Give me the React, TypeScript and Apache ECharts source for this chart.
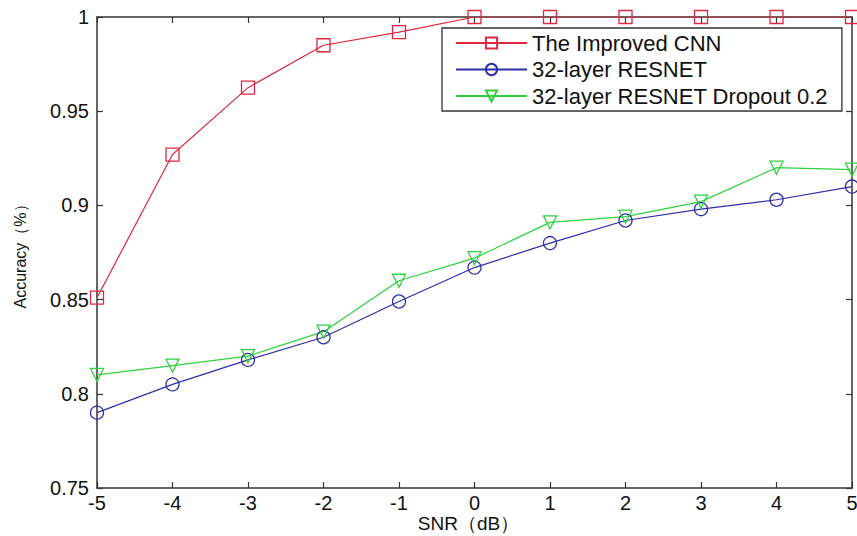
import React, { useEffect, useRef } from "react";
import * as echarts from "echarts";

const snr = [-5, -4, -3, -2, -1, 0, 1, 2, 3, 4, 5];
const improvedCnn = [0.851, 0.927, 0.9625, 0.985, 0.992, 1.0, 1.0, 1.0, 1.0, 1.0, 1.0];
const resnet32 = [0.79, 0.805, 0.818, 0.83, 0.849, 0.867, 0.88, 0.892, 0.898, 0.903, 0.91];
const resnet32Dropout = [0.81, 0.815, 0.82, 0.833, 0.86, 0.872, 0.891, 0.894, 0.902, 0.92, 0.919];
const seriesNames = ["The Improved CNN", "32-layer RESNET", "32-layer RESNET Dropout 0.2"];
const yTicks = [0.75, 0.8, 0.85, 0.9, 0.95, 1];

const FONT = 'Arial, "Liberation Sans", sans-serif';
const RED = "#dc2840";
const BLUE = "#2e2ea8";
const GREEN = "#30d040";
const AXIS = "#333333";

function App() {
  const ref = useRef<HTMLDivElement>(null);
  useEffect(() => {
    if (!ref.current) return;
    const chart = echarts.init(ref.current, undefined, { renderer: "svg" });
    const pairs = (ys: number[]) => snr.map((x, i) => [x, ys[i]]);
    const mk = (name: string, ys: number[], color: string, symbol: string, size: number, rotate = 0) => ({
      name,
      type: "line",
      data: pairs(ys),
      symbol,
      symbolSize: size,
      symbolRotate: rotate,
      showAllSymbol: true,
      lineStyle: { color, width: 1.2 },
      itemStyle: { color: "none", borderColor: color, borderWidth: 1.3 },
      emphasis: { disabled: true },
      z: 3,
    });
    const tickFmt = (v: number) => String(Math.round(v * 100) / 100);
    const mirrorX = {
      type: "value",
      min: -5,
      max: 5,
      interval: 1,
      position: "top",
      axisLine: { show: true, onZero: false, lineStyle: { color: AXIS, width: 1.5 } },
      axisTick: { show: true, inside: true, length: 6, lineStyle: { color: AXIS, width: 1.2 } },
      axisLabel: { show: false },
      splitLine: { show: false },
    };
    const mirrorY = {
      type: "value",
      min: 0.75,
      max: 1,
      interval: 0.05,
      position: "right",
      axisLine: { show: true, onZero: false, lineStyle: { color: AXIS, width: 1.5 } },
      axisTick: { show: true, inside: true, length: 6, lineStyle: { color: AXIS, width: 1.2 } },
      axisLabel: { show: false },
      splitLine: { show: false },
    };
    chart.setOption({
      animation: false,
      backgroundColor: "#ffffff",
      grid: { left: 97, right: 5, top: 17, bottom: 48, containLabel: false, outerBoundsMode: "none" },
      legend: {
        orient: "vertical",
        left: 442,
        top: 28,
        padding: [4, 14, 4, 13],
        itemGap: 4.5,
        itemWidth: 71,
        itemHeight: 14,
        backgroundColor: "#ffffff",
        borderColor: AXIS,
        borderWidth: 1.3,
        data: seriesNames,
        textStyle: { fontFamily: FONT, fontSize: 22, color: "#111" },
      },
      xAxis: [
        {
          type: "value",
          min: -5,
          max: 5,
          interval: 1,
          position: "bottom",
          name: "SNR（dB）",
          nameLocation: "middle",
          nameGap: 26,
          nameMoveOverlap: false,
          nameTextStyle: { fontFamily: FONT, fontSize: 19, lineHeight: 19, color: "#111", padding: [0, 12, 0, 0] },
          axisLine: { show: true, onZero: false, lineStyle: { color: AXIS, width: 1.5 } },
          axisTick: { show: true, inside: true, length: 6, lineStyle: { color: AXIS, width: 1.2 } },
          axisLabel: { fontFamily: FONT, fontSize: 20, lineHeight: 20, color: "#111", margin: 5 },
          splitLine: { show: false },
        },
        mirrorX,
      ],
      yAxis: [
        {
          type: "value",
          min: 0.75,
          max: 1,
          interval: 0.05,
          position: "left",
          name: "Accuracy（%）",
          nameLocation: "middle",
          nameGap: 69,
          nameMoveOverlap: false,
          nameTextStyle: { fontFamily: FONT, fontSize: 16, color: "#111" },
          axisLine: { show: true, onZero: false, lineStyle: { color: AXIS, width: 1.5 } },
          axisTick: { show: true, inside: true, length: 6, lineStyle: { color: AXIS, width: 1.2 } },
          axisLabel: {
            fontFamily: FONT,
            fontSize: 20,
            color: "#111",
            margin: 8,
            formatter: (v: number) => (yTicks.some((t) => Math.abs(t - v) < 1e-6) ? tickFmt(v) : ""),
          },
          splitLine: { show: false },
        },
        mirrorY,
      ],
      series: [
        mk(seriesNames[0], improvedCnn, RED, "rect", 13),
        mk(seriesNames[1], resnet32, BLUE, "circle", 13),
        mk(seriesNames[2], resnet32Dropout, GREEN, "triangle", 13, 180),
      ],
    });
    return () => chart.dispose();
  }, []);
  return (
    <div
      ref={ref}
      style={{ position: "absolute", left: 0, top: 0, width: 857, height: 536 }}
    />
  );
}

export default App;
